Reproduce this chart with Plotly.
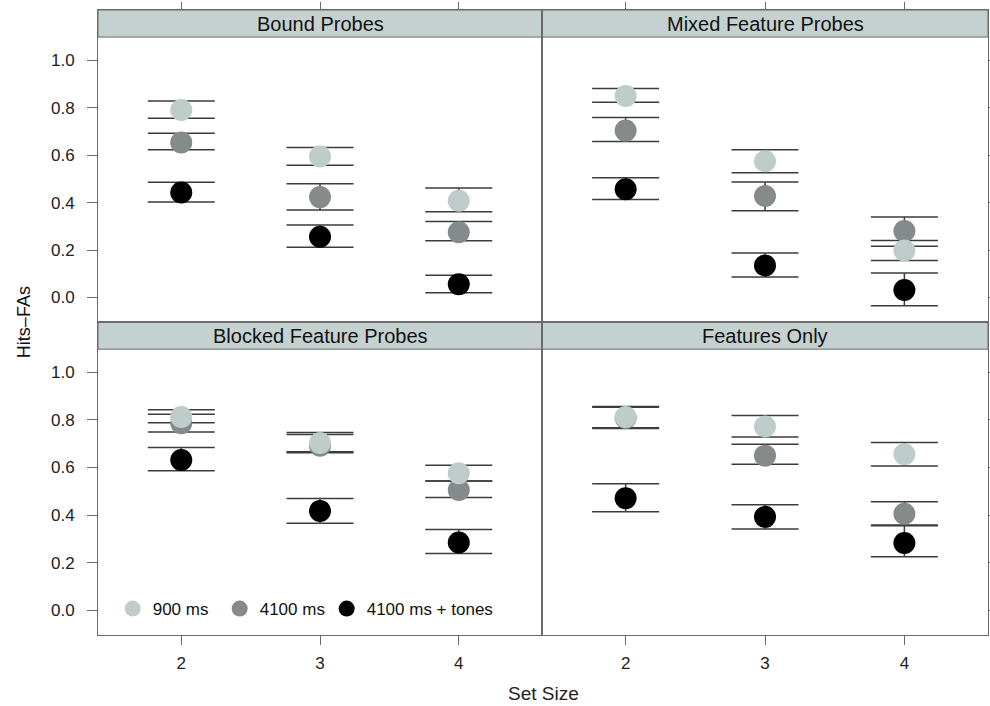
import plotly.graph_objects as go

# ---------------- data ----------------
panels = ["Bound Probes", "Mixed Feature Probes", "Blocked Feature Probes", "Features Only"]
set_sizes = [2, 3, 4]
series_names = ["900 ms", "4100 ms", "4100 ms + tones"]
series_colors = ["#BECCCA", "#858B8A", "#000000"]

# Bound Probes
bound_900 = [0.790, 0.594, 0.408]
bound_900_hi = [0.828, 0.632, 0.461]
bound_900_lo = [0.755, 0.557, 0.361]
bound_4100 = [0.653, 0.423, 0.275]
bound_4100_hi = [0.692, 0.479, 0.320]
bound_4100_lo = [0.622, 0.369, 0.239]
bound_tones = [0.442, 0.256, 0.056]
bound_tones_hi = [0.486, 0.305, 0.094]
bound_tones_lo = [0.402, 0.212, 0.020]

# Mixed Feature Probes
mixed_900 = [0.849, 0.574, 0.198]
mixed_900_hi = [0.880, 0.622, 0.240]
mixed_900_lo = [0.823, 0.526, 0.156]
mixed_4100 = [0.703, 0.428, 0.280]
mixed_4100_hi = [0.758, 0.487, 0.339]
mixed_4100_lo = [0.657, 0.366, 0.216]
mixed_tones = [0.456, 0.135, 0.032]
mixed_tones_hi = [0.504, 0.188, 0.103]
mixed_tones_lo = [0.413, 0.086, -0.035]

# Blocked Feature Probes
blocked_900 = [0.812, 0.703, 0.576]
blocked_900_hi = [0.843, 0.747, 0.610]
blocked_900_lo = [0.788, 0.666, 0.543]
blocked_4100 = [0.786, 0.692, 0.506]
blocked_4100_hi = [0.824, 0.739, 0.543]
blocked_4100_lo = [0.749, 0.662, 0.474]
blocked_tones = [0.632, 0.418, 0.285]
blocked_tones_hi = [0.684, 0.470, 0.340]
blocked_tones_lo = [0.587, 0.366, 0.239]

# Features Only
feat_900 = [0.812, 0.772, 0.656]
feat_900_hi = [0.856, 0.818, 0.705]
feat_900_lo = [0.767, 0.728, 0.606]
feat_4100 = [0.808, 0.650, 0.406]
feat_4100_hi = [0.853, 0.698, 0.456]
feat_4100_lo = [0.764, 0.614, 0.359]
feat_tones = [0.471, 0.393, 0.283]
feat_tones_hi = [0.532, 0.444, 0.356]
feat_tones_lo = [0.414, 0.342, 0.226]

y_tickvals = [0.0, 0.2, 0.4, 0.6, 0.8, 1.0]

panel_data = [
    [(bound_900, bound_900_hi, bound_900_lo), (bound_4100, bound_4100_hi, bound_4100_lo), (bound_tones, bound_tones_hi, bound_tones_lo)],
    [(mixed_900, mixed_900_hi, mixed_900_lo), (mixed_4100, mixed_4100_hi, mixed_4100_lo), (mixed_tones, mixed_tones_hi, mixed_tones_lo)],
    [(blocked_900, blocked_900_hi, blocked_900_lo), (blocked_4100, blocked_4100_hi, blocked_4100_lo), (blocked_tones, blocked_tones_hi, blocked_tones_lo)],
    [(feat_900, feat_900_hi, feat_900_lo), (feat_4100, feat_4100_hi, feat_4100_lo), (feat_tones, feat_tones_hi, feat_tones_lo)],
]

# ---------------- figure ----------------
FONT = "Liberation Sans, Arial, Helvetica, sans-serif"
FRAME = "#6a6a6a"
STRIP = "#C4D1D0"
YMIN, YMAX = -0.103, 1.211
STRIP_LO = 1.097

fig = go.Figure()

axis_ids = [("x", "y"), ("x2", "y2"), ("x3", "y3"), ("x4", "y4")]

for p, (xa, ya) in enumerate(axis_ids):
    # error bars first (behind all dots)
    for s in range(3):
        mean, hi, lo = panel_data[p][s]
        fig.add_trace(go.Scatter(
            x=set_sizes, y=mean, xaxis=xa, yaxis=ya, mode="markers",
            marker=dict(size=2, color="rgba(0,0,0,0)"),
            error_y=dict(type="data", symmetric=False,
                         array=[h - m for h, m in zip(hi, mean)],
                         arrayminus=[m - l for m, l in zip(mean, lo)],
                         color="#3c3c3c", thickness=1.5, width=33.5),
            showlegend=False, hoverinfo="skip"))
    # dots: black, gray, light (light on top)
    for s in [2, 1, 0]:
        mean = panel_data[p][s][0]
        extra = {"legendwidth": 62} if s < 2 else {}
        fig.add_trace(go.Scatter(
            x=set_sizes, y=mean, xaxis=xa, yaxis=ya, mode="markers",
            marker=dict(size=22, color=series_colors[s], line=dict(width=0)),
            name=series_names[s], legendgroup=series_names[s],
            legendrank=s + 1, showlegend=(p == 0), **extra))

x_dom = [[0, 0.4989], [0.4989, 1], [0, 0.4989], [0.4989, 1]]
y_dom = [[0.5008, 1], [0.5008, 1], [0, 0.5008], [0, 0.5008]]

layout_axes = {}
for p in range(4):
    sx = "" if p == 0 else str(p + 1)
    top = p < 2
    left = p % 2 == 0
    layout_axes["xaxis" + sx] = dict(
        domain=x_dom[p], anchor="y" + sx, range=[1.4, 4.6],
        tickvals=set_sizes, side="top" if top else "bottom",
        showticklabels=not top, ticks="outside", ticklen=9 if not top else 7,
        tickcolor=FRAME, tickwidth=1, showline=True, mirror=True,
        linecolor=FRAME, linewidth=1, showgrid=False, zeroline=False,
        ticklabelstandoff=4, automargin=False,
        tickfont=dict(family=FONT, size=17, color="#222"), fixedrange=True)
    layout_axes["yaxis" + sx] = dict(
        domain=y_dom[p], anchor="x" + sx, range=[YMIN, YMAX],
        tickvals=y_tickvals, tickformat=".1f", side="left" if left else "right",
        showticklabels=left, ticks="outside", ticklen=10, tickcolor=FRAME,
        tickwidth=1, showline=True, mirror=True, linecolor=FRAME, linewidth=1,
        showgrid=False, zeroline=False, ticklabelstandoff=9, automargin=False,
        tickfont=dict(family=FONT, size=17, color="#222"), fixedrange=True)

shapes = []
annotations = []
for p in range(4):
    sx = "" if p == 0 else str(p + 1)
    shapes.append(dict(type="rect", xref="x" + sx + " domain", yref="y" + sx,
                       x0=0, x1=1, y0=STRIP_LO, y1=YMAX, fillcolor=STRIP,
                       line=dict(color=FRAME, width=1), layer="below"))
    annotations.append(dict(text=panels[p], xref="x" + sx + " domain", yref="y" + sx,
                            x=0.5, y=(STRIP_LO + YMAX) / 2, showarrow=False,
                            xanchor="center", yanchor="middle",
                            font=dict(family=FONT, size=20, color="#111")))

annotations.append(dict(text="Set Size", xref="paper", yref="paper", x=0.5, y=-0.094,
                        showarrow=False, xanchor="center", yanchor="middle",
                        font=dict(family=FONT, size=19, color="#222")))
annotations.append(dict(text="Hits\u2013FAs", xref="paper", yref="paper", x=-0.083, y=0.5008,
                        showarrow=False, xanchor="center", yanchor="middle", textangle=-90,
                        font=dict(family=FONT, size=18, color="#111")))

fig.update_layout(
    width=990, height=706, autosize=False,
    margin=dict(l=98, r=2, t=10, b=71),
    paper_bgcolor="white", plot_bgcolor="white",
    font=dict(family=FONT, color="#222"),
    showlegend=True,
    legend=dict(orientation="h", x=0.0165, y=0.0416, xanchor="left", yanchor="middle",
                bgcolor="rgba(0,0,0,0)", font=dict(family=FONT, size=17, color="#111"),
                itemsizing="trace", traceorder="normal"),
    shapes=shapes, annotations=annotations,
    **layout_axes)

fig.write_html(
    "out.html",
    config={"responsive": False, "displayModeBar": False},
    post_script="document.body.style.margin='0px';document.body.style.overflow='hidden';",
)
